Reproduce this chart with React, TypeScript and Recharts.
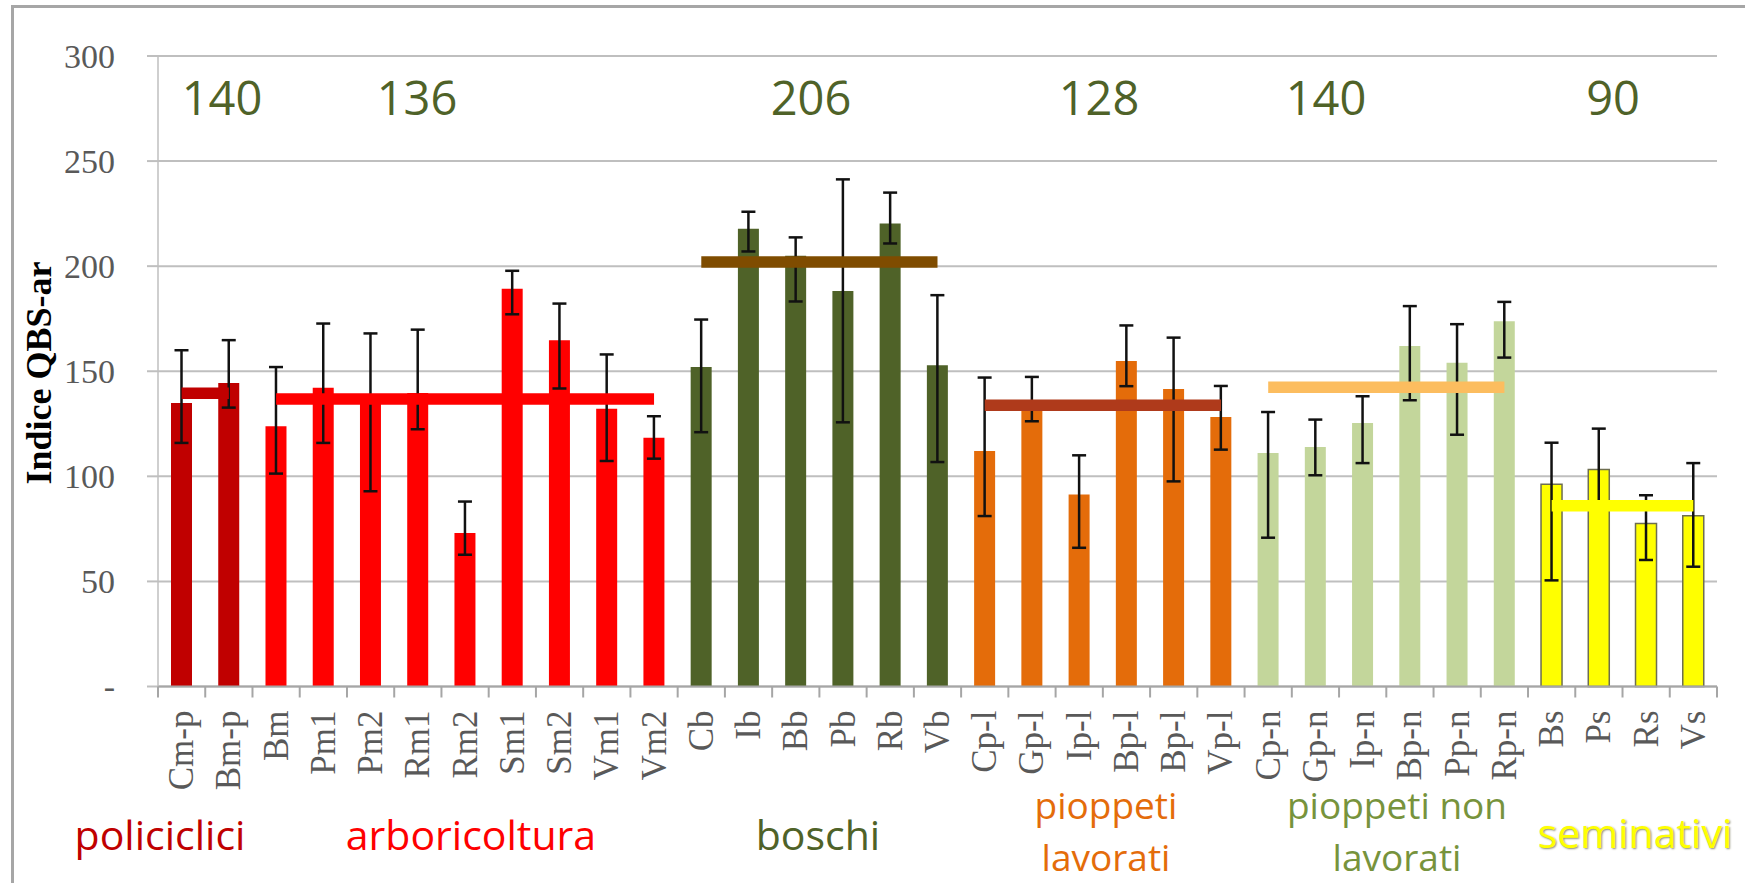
import React from "react";
import { ComposedChart, Bar, Cell, ErrorBar, Line, XAxis, YAxis, CartesianGrid } from "recharts";

// categorie (siti) in ordine sull'asse X
const categories = [
  "Cm-p", "Bm-p", "Bm", "Pm1", "Pm2", "Rm1", "Rm2", "Sm1", "Sm2", "Vm1", "Vm2",
  "Cb", "Ib", "Bb", "Pb", "Rb", "Vb",
  "Cp-l", "Gp-l", "Ip-l", "Bp-l", "Bp-l", "Vp-l",
  "Cp-n", "Gp-n", "Ip-n", "Bp-n", "Pp-n", "Rp-n",
  "Bs", "Ps", "Rs", "Vs",
];

// indice QBS-ar medio per sito
const values = [
  134.9, 144.4, 123.8, 142.2, 137, 139.7, 73, 189.2, 164.8, 132.2, 118.4,
  152, 217.8, 205, 188.2, 220.3, 152.9,
  112, 135, 91.3, 154.9, 141.6, 128.2,
  111.1, 114, 125.4, 162, 154, 173.8,
  96.2, 103.3, 77.5, 81.2,
];

// estremi delle barre d'errore
const errUpper = [
  160, 164.8, 152, 172.7, 168, 169.8, 88, 197.8, 182.2, 158, 128.6,
  174.6, 225.9, 213.7, 241.3, 235, 186.2,
  147, 147.3, 110, 171.8, 166, 143,
  130.6, 127, 138.1, 181, 172.4, 183,
  116, 122.7, 91, 106.3,
];
const errLower = [
  115.9, 132.7, 101.3, 115.9, 92.9, 122.4, 62.7, 177.1, 141.8, 107.3, 108.4,
  121, 207, 183.2, 125.7, 210.8, 106.8,
  81.1, 126.2, 66, 142.9, 97.6, 112.7,
  70.8, 100.5, 106.3, 136.2, 119.8, 156.5,
  50.5, 85, 60.2, 57,
];

// gruppi di uso del suolo
const groupNames = ["policiclici", "arboricoltura", "boschi", "pioppeti lavorati", "pioppeti non lavorati", "seminativi"];
const groupSizes = [2, 9, 6, 6, 6, 4];
const groupMeans = [139.5, 136.8, 202, 133.8, 142.4, 86];
const groupTotals = ["140", "136", "206", "128", "140", "90"];
const barColors = ["#C00000", "#FF0000", "#4F6228", "#E46C0A", "#C3D69B", "#FFFF00"];
const meanColors = ["#C00000", "#FF0000", "#7F4C00", "#AF3A1B", "#FCBD5F", "#FFFF00"];
const labelColors = ["#C00000", "#FF0000", "#4F6228", "#E46C0A", "#77933C", "#FFFF00"];

const yTicks = [0, 50, 100, 150, 200, 250, 300];

const W = 1745;
const H = 883;
const PLOT_LEFT = 158;
const PLOT_RIGHT = 1717;
const PLOT_TOP = 56;
const PLOT_BOTTOM = 686.5;
const BW = (PLOT_RIGHT - PLOT_LEFT) / categories.length;

const groupOf: number[] = [];
groupSizes.forEach((n, g) => {
  for (let i = 0; i < n; i++) groupOf.push(g);
});

const data = categories.map((label, i) => {
  const row: any = {
    id: i,
    label,
    value: values[i],
    err: [values[i] - errLower[i], errUpper[i] - values[i]],
  };
  groupMeans.forEach((m, g) => {
    row[`m${g}`] = groupOf[i] === g ? m : null;
  });
  return row;
});

const serif = '"Liberation Serif", "Times New Roman", serif';
const comic = '"Comic Sans MS", "Open Sans", sans-serif';

function XTick(props: any) {
  const { x, y, payload, index } = props;
  const label = categories[payload.value];
  return (
    <g transform={`translate(${x},${y})`}>
      <line x1={-BW / 2} x2={-BW / 2} y1={0} y2={11} stroke="#A6A6A6" strokeWidth={2} />
      {index === categories.length - 1 && (
        <line x1={BW / 2} x2={BW / 2} y1={0} y2={11} stroke="#A6A6A6" strokeWidth={2} />
      )}
      <text
        transform="translate(0,24) rotate(-90)"
        textAnchor="end"
        dominantBaseline="central"
        fontFamily={serif}
        fontSize={35}
        fill="#595959"
      >
        {label}
      </text>
    </g>
  );
}

function YTick(props: any) {
  const { y, payload } = props;
  return (
    <text
      x={115}
      y={y}
      textAnchor="end"
      dominantBaseline="central"
      fontFamily={serif}
      fontSize={34}
      fill="#595959"
    >
      {payload.value === 0 ? "-" : payload.value}
    </text>
  );
}

export default function App() {
  return (
    <div style={{ position: "absolute", left: 0, top: 0, width: W, height: H, overflow: "hidden", background: "#fff" }}>
      <div
        style={{
          position: "absolute",
          left: 11,
          top: 5,
          width: W,
          height: H,
          borderLeft: "3px solid #A6A6A6",
          borderTop: "3px solid #A6A6A6",
        }}
      />
      <div style={{ position: "absolute", left: 0, top: 0 }}>
        <ComposedChart
          width={W}
          height={H}
          data={data}
          margin={{ top: PLOT_TOP, right: W - PLOT_RIGHT, bottom: 0, left: 0 }}
          barSize={21}
        >
          <CartesianGrid vertical={false} stroke="#BFBFBF" strokeWidth={2} />
          <XAxis
            dataKey="id"
            type="category"
            interval={0}
            height={H - PLOT_BOTTOM}
            tickSize={0}
            tickMargin={0}
            tickLine={false}
            axisLine={{ stroke: "#A6A6A6", strokeWidth: 2 }}
            tick={<XTick />}
          />
          <YAxis
            width={PLOT_LEFT}
            domain={[0, 300]}
            ticks={yTicks}
            interval={0}
            tickSize={11}
            tickLine={{ stroke: "#BFBFBF", strokeWidth: 2 }}
            axisLine={{ stroke: "#BFBFBF", strokeWidth: 1.5 }}
            tick={<YTick />}
          />
          <Bar dataKey="value" isAnimationActive={false}>
            {data.map((d, i) => (
              <Cell
                key={`c-${i}`}
                fill={barColors[groupOf[i]]}
                stroke={groupOf[i] === 5 ? "#6E6E50" : "none"}
                strokeWidth={groupOf[i] === 5 ? 1.5 : 0}
              />
            ))}
            <ErrorBar dataKey="err" direction="y" stroke="#111" strokeWidth={2.5} width={7} />
          </Bar>
          {groupMeans.map((m, g) => (
            <Line
              key={`m${g}`}
              dataKey={`m${g}`}
              type="linear"
              stroke={meanColors[g]}
              strokeWidth={11.5}
              dot={false}
              activeDot={false}
              connectNulls={false}
              legendType="none"
              isAnimationActive={false}
            />
          ))}
        </ComposedChart>
      </div>
      <svg width={W} height={H} style={{ position: "absolute", left: 0, top: 0, pointerEvents: "none" }}>
        <text
          transform="translate(51,373) rotate(-90)"
          textAnchor="middle"
          fontFamily={serif}
          fontWeight="bold"
          fontSize={36}
          fill="#000"
        >
          Indice QBS-ar
        </text>
        {/* valori medi per gruppo in alto */}
        {[222, 417, 811, 1099, 1326, 1613].map((cx, g) => (
          <text key={`t${g}`} x={cx} y={115} textAnchor="middle" fontFamily={comic} fontSize={47} fill="#4F6228">
            {groupTotals[g]}
          </text>
        ))}
        {/* nomi dei gruppi */}
        <text x={160} y={850} textAnchor="middle" fontFamily={comic} fontSize={41} fill={labelColors[0]}>
          {groupNames[0]}
        </text>
        <text x={471} y={850} textAnchor="middle" fontFamily={comic} fontSize={41} fill={labelColors[1]}>
          {groupNames[1]}
        </text>
        <text x={818} y={850} textAnchor="middle" fontFamily={comic} fontSize={41} fill={labelColors[2]}>
          {groupNames[2]}
        </text>
        <text x={1106} y={819} textAnchor="middle" fontFamily={comic} fontSize={37} fill={labelColors[3]}>
          pioppeti
        </text>
        <text x={1106} y={871} textAnchor="middle" fontFamily={comic} fontSize={37} fill={labelColors[3]}>
          lavorati
        </text>
        <text x={1397} y={819} textAnchor="middle" fontFamily={comic} fontSize={37} fill={labelColors[4]}>
          pioppeti non
        </text>
        <text x={1397} y={871} textAnchor="middle" fontFamily={comic} fontSize={37} fill={labelColors[4]}>
          lavorati
        </text>
        <text
          x={1635}
          y={848}
          textAnchor="middle"
          fontFamily={comic}
          fontSize={41}
          fill={labelColors[5]}
          style={{ textShadow: "1px 1px 2px #8a8a70" }}
        >
          {groupNames[5]}
        </text>
      </svg>
    </div>
  );
}
